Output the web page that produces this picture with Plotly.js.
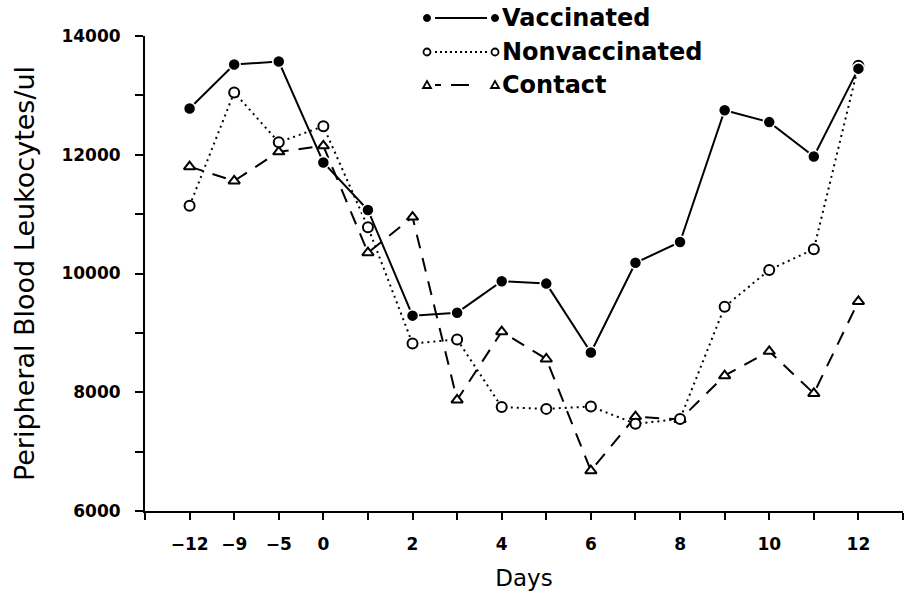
<!DOCTYPE html>
<html>
<head>
<meta charset="utf-8">
<script src="https://cdn.plot.ly/plotly-3.0.1.min.js"></script>
<style>
  html, body { margin: 0; padding: 0; background: #fff; }
  #chart { width: 912px; height: 593px; }
</style>
</head>
<body>
<div id="chart"></div>
<script>
// ---- data ----
const days = ["−12", "−9", "−5", "0", "1", "2", "3", "4", "5", "6", "7", "8", "9", "10", "11", "12"];
const vaccinated    = [12780, 13520, 13570, 11870, 11070, 9290, 9340, 9870, 9830, 8670, 10180, 10530, 12750, 12550, 11970, 13450];
const nonvaccinated = [11140, 13050, 12210, 12480, 10780, 8820, 8890, 7750, 7720, 7760, 7470, 7550, 9440, 10060, 10410, 13500];
const contact       = [11800, 11560, 12050, 12150, 10350, 10950, 7870, 9020, 8560, 6680, 7590, 7540, 8280, 8690, 7980, 9530];
const shownDayLabels = ["−12", "−9", "−5", "0", "2", "4", "6", "8", "10", "12"];
const yTickLabels = ["6000", "8000", "10000", "12000", "14000"];
const seriesNames = ["Vaccinated", "Nonvaccinated", "Contact"];

// positions on the evenly spaced day axis (slot 0 and last slot are empty)
const xpos = days.map((d, i) => i + 1);
const xTickVals = [];
const xTickText = [];
for (let i = 0; i <= days.length + 1; i++) {
  xTickVals.push(i);
  const d = days[i - 1];
  xTickText.push(d !== undefined && shownDayLabels.includes(d) ? d : "");
}
const yTickVals = [];
const yTickText = [];
for (let v = 6000; v <= 14000; v += 1000) {
  yTickVals.push(v);
  yTickText.push(yTickLabels.includes(String(v)) ? String(v) : "");
}

const traces = [
  {
    x: xpos, y: contact, name: seriesNames[2], mode: "lines+markers", type: "scatter",
    line: { color: "#000", width: 2, dash: "14px,10px" },
    marker: { symbol: "triangle-up", size: 10, color: "#fff", line: { color: "#000", width: 2 } },
    cliponaxis: false
  },
  {
    x: xpos, y: nonvaccinated, name: seriesNames[1], mode: "lines+markers", type: "scatter",
    line: { color: "#000", width: 2, dash: "2px,4px" },
    marker: { symbol: "circle", size: 10, color: "#fff", line: { color: "#000", width: 2 } },
    cliponaxis: false
  },
  {
    x: xpos, y: vaccinated, name: seriesNames[0], mode: "lines+markers", type: "scatter",
    line: { color: "#000", width: 2 },
    marker: { symbol: "circle", size: 12, color: "#000", line: { color: "#fff", width: 1.5 } },
    cliponaxis: false
  }
];

// ---- custom legend (marker — line — marker, text) ----
const L = 145, R = 903, T = 36, B = 511;
const px = X => (X - L) / (R - L);
const py = Y => (B - Y) / (B - T);
const shapes = [];
const annotations = [];
const rows = [
  { y: 18, text: seriesNames[0], dash: "solid", kind: "dot" },
  { y: 52, text: seriesNames[1], dash: "dot", kind: "ring" },
  { y: 85, text: seriesNames[2], dash: "dash", kind: "tri" }
];
function keyMarker(kind, X, Y) {
  if (kind === "dot") {
    shapes.push({ type: "circle", xref: "paper", yref: "paper", xsizemode: "pixel", ysizemode: "pixel",
      xanchor: px(X), yanchor: py(Y), x0: -3.5, x1: 3.5, y0: -3.5, y1: 3.5,
      fillcolor: "#000", line: { color: "#000", width: 1 } });
  } else if (kind === "ring") {
    shapes.push({ type: "circle", xref: "paper", yref: "paper", xsizemode: "pixel", ysizemode: "pixel",
      xanchor: px(X), yanchor: py(Y), x0: -3.5, x1: 3.5, y0: -3.5, y1: 3.5,
      fillcolor: "#fff", line: { color: "#000", width: 1.8 } });
  } else {
    shapes.push({ type: "path", xref: "paper", yref: "paper", xsizemode: "pixel", ysizemode: "pixel",
      xanchor: px(X), yanchor: py(Y), path: "M -4 -3 L 4 -3 L 0 4 Z",
      fillcolor: "#fff", line: { color: "#000", width: 1.8 } });
  }
}
rows.forEach(r => {
  shapes.push({ type: "line", xref: "paper", yref: "paper", x0: px(435), x1: px(487), y0: py(r.y), y1: py(r.y),
    line: { color: "#000", width: 2, dash: r.dash === "dot" ? "2px,3px" : (r.dash === "dash" ? "6px,10px,18px,20px" : "solid") } });
  keyMarker(r.kind, 427, r.y);
  keyMarker(r.kind, 495, r.y);
  annotations.push({ xref: "paper", yref: "paper", x: px(500), y: py(r.y), xanchor: "left", yanchor: "middle",
    text: r.text, showarrow: false, font: { family: "DejaVu Sans", size: 24, color: "#000", weight: "bold" } });
});

const layout = {
  width: 912, height: 593,
  margin: { l: L, r: 912 - R, t: T, b: 593 - B },
  paper_bgcolor: "#fff", plot_bgcolor: "#fff",
  showlegend: false,
  font: { family: "DejaVu Sans", color: "#000" },
  xaxis: {
    range: [0, days.length + 1], tickvals: xTickVals, ticktext: xTickText,
    ticks: "outside", ticklen: 7, tickwidth: 2, tickcolor: "#000",
    showline: true, linewidth: 2, linecolor: "#000", showgrid: false, zeroline: false,
    tickfont: { family: "DejaVu Sans", size: 17, weight: "bold", color: "#000" },
    ticklabelstandoff: 10,
    title: { text: "Days", font: { family: "DejaVu Sans", size: 23, color: "#000" }, standoff: 16 }
  },
  yaxis: {
    range: [6000, 14000], tickvals: yTickVals, ticktext: yTickText,
    ticks: "outside", ticklen: 8, tickwidth: 2, tickcolor: "#000",
    showline: true, linewidth: 2, linecolor: "#000", showgrid: false, zeroline: false,
    tickfont: { family: "DejaVu Sans", size: 17, weight: "bold", color: "#000" },
    ticklabelstandoff: 11,
    title: { text: "Peripheral Blood Leukocytes/ul", font: { family: "DejaVu Sans", size: 27, color: "#000" }, standoff: 19 }
  },
  shapes: shapes,
  annotations: annotations
};

Plotly.newPlot("chart", traces, layout, { displayModeBar: false, staticPlot: true });
</script>
</body>
</html>
